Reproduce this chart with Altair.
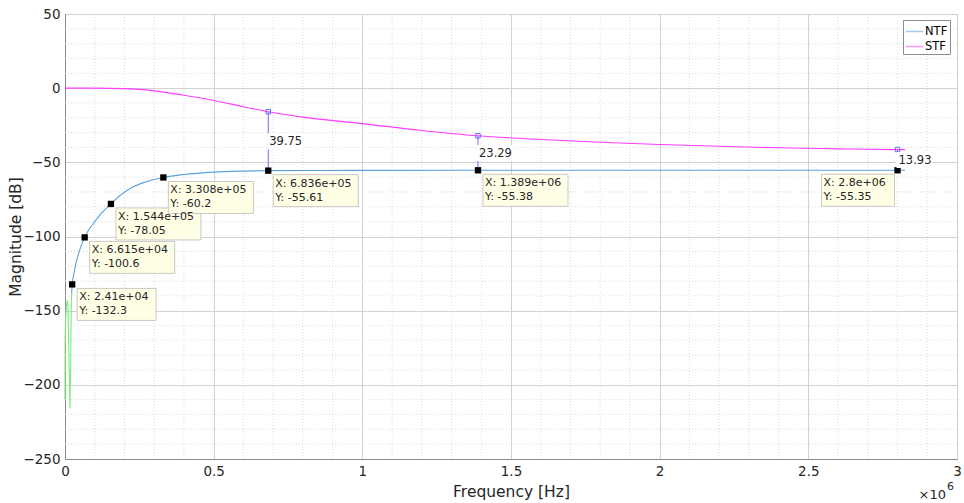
import altair as alt
import pandas as pd

# ---------------- data ----------------
ntf_freq = [2.2e4, 2.41e4, 3.0e4, 3.7e4, 4.5e4, 5.5e4, 6.615e4, 8.0e4, 1.0e5, 1.25e5,
            1.544e5, 1.8e5, 2.19e5, 2.7e5, 3.308e5, 4.0e5, 5.0e5, 6.0e5, 6.836e5,
            8.5e5, 1.0e6, 1.389e6, 2.0e6, 2.8e6, 2.825e6]
ntf_mag = [-140, -132.3, -125, -118, -112, -106, -100.6, -95.5, -90, -83.8,
           -78.05, -73.2, -67.6, -63.3, -60.2, -58.2, -56.6, -55.9, -55.61,
           -55.47, -55.42, -55.38, -55.36, -55.35, -55.35]

stf_freq = [0, 1.0e5, 2.0e5, 2.5e5, 3.0e5, 3.5e5, 4.0e5, 5.0e5, 6.0e5, 6.836e5,
            8.0e5, 1.0e6, 1.2e6, 1.389e6, 1.6e6, 1.8e6, 2.0e6, 2.2e6, 2.4e6,
            2.6e6, 2.8e6, 2.825e6]
stf_mag = [0, 0, -0.3, -0.8, -1.8, -3.2, -4.8, -8.3, -12.5, -15.86,
           -19.5, -23.9, -28.5, -32.09, -34.6, -36.5, -38.0, -39.2, -40.2,
           -40.9, -41.42, -41.45]

grn_freq = [0, 300, 1500, 5000, 8500, 10500, 13500, 16800, 19000, 21000, 22500]
grn_mag = [-210, -172, -158, -146, -143, -150, -185, -216, -185, -150, -138]

tip_x = [2.41e4, 6.615e4, 1.544e5, 3.308e5, 6.836e5, 1.389e6, 2.8e6]
tip_y = [-132.3, -100.6, -78.05, -60.2, -55.61, -55.38, -55.35]
tip_xtxt = ["2.41e+04", "6.615e+04", "1.544e+05", "3.308e+05", "6.836e+05", "1.389e+06", "2.8e+06"]
tip_ytxt = ["-132.3", "-100.6", "-78.05", "-60.2", "-55.61", "-55.38", "-55.35"]
tip_side = ["right", "right", "right", "right", "right", "right", "left"]

delta_x = [6.836e5, 1.389e6, 2.8e6]
delta_ntf = [-55.61, -55.38, -55.35]
delta_val = [39.75, 23.29, 13.93]

x_major = [0, 5e5, 1e6, 1.5e6, 2e6, 2.5e6, 3e6]
y_major = [-250, -200, -150, -100, -50, 0, 50]
x_minor = [v * 1e5 for v in range(1, 30) if v % 5 != 0]
y_minor = [v for v in range(-240, 50, 10) if v % 50 != 0]

FONT = "DejaVu Sans"
TXT = "#262626"
C_NTF = "#5aa2dc"
C_STF = "#ff3cff"
C_GRN = "#7ced7c"
C_TIP = "#6a6aff"

# ---------------- tables ----------------
curves = pd.concat([
    pd.DataFrame({"f": ntf_freq, "m": ntf_mag, "s": "NTF"}),
    pd.DataFrame({"f": stf_freq, "m": stf_mag, "s": "STF"}),
])
green = pd.DataFrame({"f": grn_freq, "m": grn_mag})

tips = pd.DataFrame({"f": tip_x, "m": tip_y, "side": tip_side})
tips["label"] = ["X: " + a + "\nY: " + b for a, b in zip(tip_xtxt, tip_ytxt)]
tips["w"] = [6 * max(len("X: " + a), len("Y: " + b)) + 13 for a, b in zip(tip_xtxt, tip_ytxt)]
tips["box"] = [f"M5,4h{w}v32h-{w}z" if s == "right" else f"M{-3 - w},4h{w}v32h-{w}z"
               for w, s in zip(tips["w"], tips["side"])]

deltas = pd.DataFrame({"f": delta_x, "ntf": delta_ntf, "d": delta_val})
deltas["stf"] = deltas["ntf"] + deltas["d"]
deltas["mid"] = (deltas["ntf"] + deltas["stf"]) / 2
deltas["txt"] = [f"{v:.2f}" for v in delta_val]
deltas["bg"] = "M-1,-8h36v16h-36z"

xs = alt.Scale(domain=[0, 3e6], nice=False, zero=False)
ys = alt.Scale(domain=[-250, 50], nice=False, zero=False)

x_axis = alt.Axis(values=x_major, labelExpr="format(datum.value / 1e6, '~g')",
                  title="Frequency [Hz]", titleX=446, titleY=32, titleBaseline="middle",
                  titleAlign="center", labelPadding=5, labelFlush=False,
                  ticks=False, grid=True)
y_axis = alt.Axis(values=y_major, title="Magnitude [dB]", titleX=-50, titleY=222.5,
                  titleAngle=270, titleAlign="center", titleBaseline="middle",
                  labelPadding=5, labelFlush=False, ticks=False, grid=True)


def X(field):
    return alt.X(field, type="quantitative", scale=xs, axis=x_axis)


def Y(field):
    return alt.Y(field, type="quantitative", scale=ys, axis=y_axis)


minor_v = alt.Chart(pd.DataFrame({"v": x_minor})).mark_rule(
    color="#dcdcdc", strokeDash=[1, 2], strokeWidth=1).encode(x=X("v"))
minor_h = alt.Chart(pd.DataFrame({"v": y_minor})).mark_rule(
    color="#dcdcdc", strokeDash=[1, 2], strokeWidth=1).encode(y=Y("v"))

lines = alt.Chart(curves).mark_line(strokeWidth=1.1, interpolate="monotone").encode(
    x=X("f"), y=Y("m"),
    color=alt.Color("s:N", scale=alt.Scale(domain=["NTF", "STF"], range=[C_NTF, C_STF]),
                    legend=alt.Legend(title=None, orient="none", legendX=838, legendY=6,
                                      direction="vertical", symbolType="stroke",
                                      symbolSize=300, symbolStrokeWidth=1.5, symbolOpacity=0.55,
                                      labelFont=FONT, labelFontSize=11.5, labelColor="#000",
                                      strokeColor="#8c8c8c", fillColor="white",
                                      padding=2, rowPadding=0, labelOffset=1)),
)
green_line = alt.Chart(green).mark_line(strokeWidth=1.1, color=C_GRN).encode(
    x=X("f"), y=Y("m"), order="o:Q").transform_window(o="row_number()")

d_rule = alt.Chart(deltas).mark_rule(color=C_TIP, strokeWidth=1).encode(
    x=X("f"), y=Y("ntf"), y2="stf")
d_mark = alt.Chart(deltas).mark_point(shape="square", size=20, filled=False,
                                      color=C_TIP, strokeWidth=1, opacity=1).encode(
    x=X("f"), y=Y("stf"))
d_bg = alt.Chart(deltas).mark_point(filled=True, fill="white", strokeWidth=0,
                                    opacity=1, size=4).encode(
    x=X("f"), y=Y("mid"), shape=alt.Shape("bg:N", scale=None, legend=None))
d_txt = alt.Chart(deltas).mark_text(align="left", baseline="middle", dx=1, dy=1,
                                    font=FONT, fontSize=11.5, color=TXT).encode(
    x=X("f"), y=Y("mid"), text="txt:N")

t_sq = alt.Chart(tips).mark_square(size=40, color="black", opacity=1).encode(
    x=X("f"), y=Y("m"))
t_box = alt.Chart(tips).mark_point(filled=True, fill="#ffffe6", stroke="#c8c8c8",
                                   strokeWidth=1, opacity=1, size=4).encode(
    x=X("f"), y=Y("m"), shape=alt.Shape("box:N", scale=None, legend=None))
t_txt_r = alt.Chart(tips).transform_filter("datum.side == 'right'").mark_text(
    align="left", baseline="top", dx=7, dy=7, font=FONT, fontSize=11, lineHeight=14,
    lineBreak="\n", color=TXT).encode(x=X("f"), y=Y("m"), text="label:N")
t_txt_l = alt.Chart(tips).transform_filter("datum.side == 'left'").mark_text(
    align="left", baseline="top", dx=-74, dy=7, font=FONT, fontSize=11, lineHeight=14,
    lineBreak="\n", color=TXT).encode(x=X("f"), y=Y("m"), text="label:N")

exp_base = alt.Chart(pd.DataFrame({"t": ["\u00d710"]})).mark_text(
    align="right", baseline="alphabetic", font=FONT, fontSize=13, color=TXT).encode(
    x=alt.value(881), y=alt.value(485), text="t:N")
exp_sup = alt.Chart(pd.DataFrame({"t": ["6"]})).mark_text(
    align="left", baseline="alphabetic", font=FONT, fontSize=11, color=TXT).encode(
    x=alt.value(882), y=alt.value(476), text="t:N")

chart = alt.layer(
    minor_v, minor_h, lines, green_line, d_rule, d_mark, t_sq, t_box, t_txt_r, t_txt_l,
    d_bg, d_txt, exp_base, exp_sup
).properties(
    width=892, height=445,
    autosize=alt.AutoSizeParams(type="none"),
    padding={"left": 65, "top": 14, "right": 7, "bottom": 44},
    background="white",
).configure_view(
    stroke="#8c8c8c", strokeWidth=1
).configure_axis(
    domainColor="#8c8c8c", gridColor="#d2d2d2", gridWidth=1,
    labelFont=FONT, labelFontSize=13.5, labelColor=TXT,
    titleFont=FONT, titleFontSize=15.5, titleFontWeight="normal", titleColor=TXT,
)

chart.save("out.html", embed_options={"renderer": "svg", "actions": False})
